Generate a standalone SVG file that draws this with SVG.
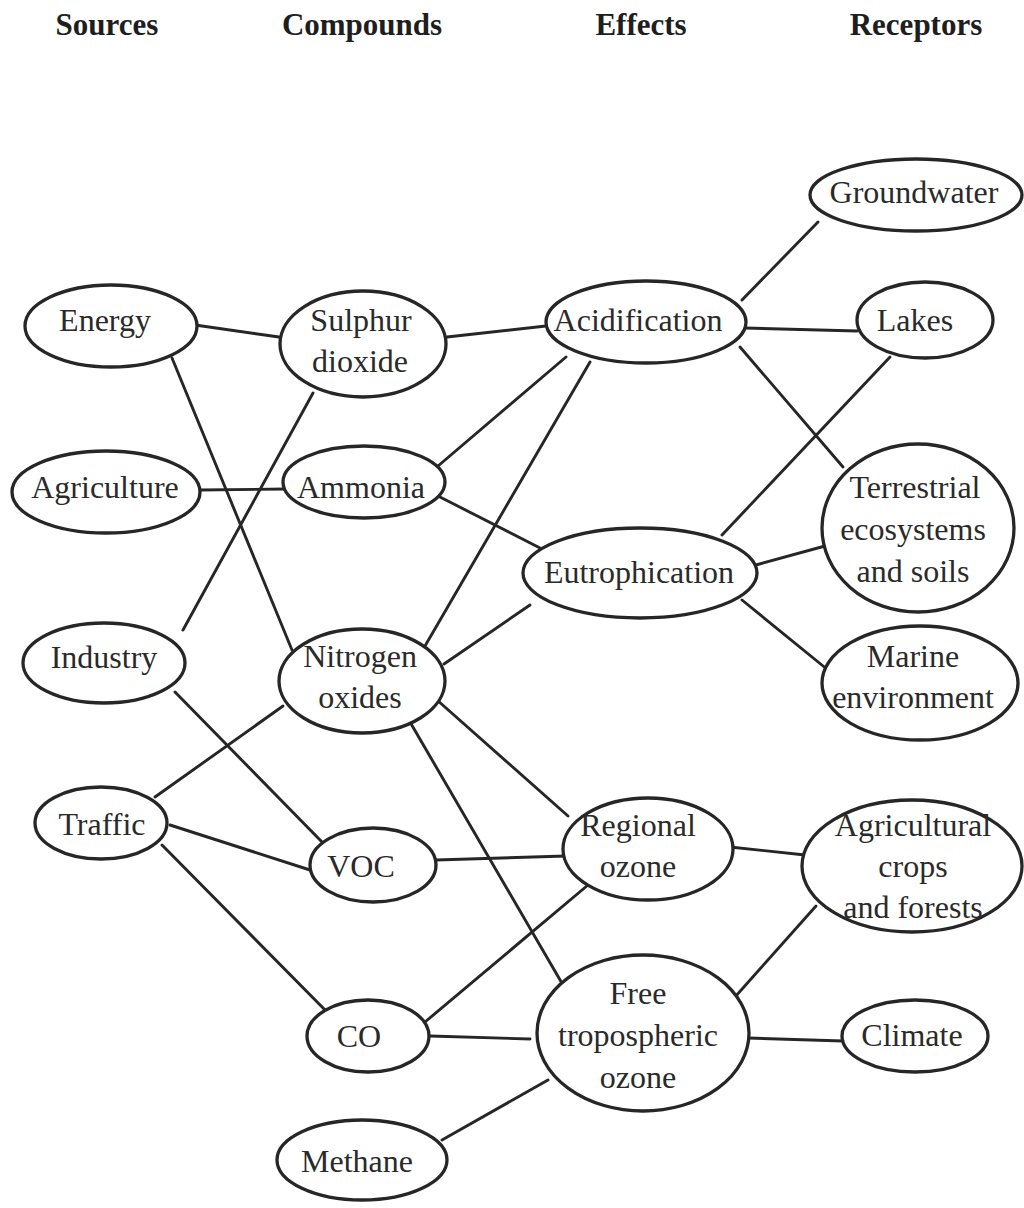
<svg xmlns="http://www.w3.org/2000/svg" width="1024" height="1208" viewBox="0 0 1024 1208">
<style>
.n{fill:#fff;stroke:#262626;stroke-width:3.3}
.t{font-family:"Liberation Serif","Times New Roman",serif;font-size:32px;fill:#2a2a2a;text-anchor:middle}
.h{font-family:"Liberation Serif","Times New Roman",serif;font-size:31px;font-weight:bold;fill:#1e1e1e;text-anchor:middle}
#edges line{stroke:#262626;stroke-width:2.9;stroke-linecap:round}
</style>
<rect width="1024" height="1208" fill="#fff"/>
<g id="headers">
<text class="h" x="107" y="35">Sources</text>
<text class="h" x="362" y="35">Compounds</text>
<text class="h" x="641" y="35">Effects</text>
<text class="h" x="916" y="35">Receptors</text>
</g>
<g id="edges">
<line x1="195" y1="325" x2="279" y2="337"/>
<line x1="172" y1="358" x2="292" y2="650"/>
<line x1="447" y1="337" x2="546" y2="326"/>
<line x1="313" y1="393" x2="183" y2="630"/>
<line x1="200" y1="490" x2="285" y2="489"/>
<line x1="438" y1="466" x2="566" y2="357"/>
<line x1="440" y1="497" x2="540" y2="548"/>
<line x1="425" y1="646" x2="590" y2="362"/>
<line x1="444" y1="664" x2="530" y2="605"/>
<line x1="437" y1="700" x2="568" y2="816"/>
<line x1="410" y1="722" x2="563" y2="985"/>
<line x1="175" y1="692" x2="322" y2="842"/>
<line x1="155" y1="797" x2="283" y2="706"/>
<line x1="170" y1="825" x2="310" y2="870"/>
<line x1="162" y1="845" x2="330" y2="1015"/>
<line x1="436" y1="860" x2="566" y2="856"/>
<line x1="588" y1="885" x2="425" y2="1022"/>
<line x1="430" y1="1036" x2="530" y2="1039"/>
<line x1="442" y1="1140" x2="548" y2="1080"/>
<line x1="742" y1="300" x2="818" y2="222"/>
<line x1="745" y1="328" x2="857" y2="331"/>
<line x1="740" y1="347" x2="843" y2="467"/>
<line x1="722" y1="535" x2="890" y2="357"/>
<line x1="756" y1="565" x2="825" y2="546"/>
<line x1="742" y1="600" x2="828" y2="670"/>
<line x1="730" y1="847" x2="805" y2="855"/>
<line x1="735" y1="997" x2="816" y2="906"/>
<line x1="748" y1="1038" x2="843" y2="1041"/>
</g>
<g id="energy"><ellipse class="n" cx="111" cy="326" rx="86" ry="41"/><text class="t" x="105" y="331">Energy</text></g>
<g id="sulphur-dioxide"><ellipse class="n" cx="363" cy="344" rx="83" ry="53"/><text class="t" x="361" y="331">Sulphur</text><text class="t" x="360" y="372">dioxide</text></g>
<g id="agriculture"><ellipse class="n" cx="106" cy="492" rx="94" ry="41"/><text class="t" x="105" y="498">Agriculture</text></g>
<g id="ammonia"><ellipse class="n" cx="364" cy="482" rx="81" ry="36"/><text class="t" x="361" y="498">Ammonia</text></g>
<g id="industry"><ellipse class="n" cx="104" cy="663" rx="81" ry="40"/><text class="t" x="104" y="668">Industry</text></g>
<g id="nitrogen-oxides"><ellipse class="n" cx="362" cy="681" rx="83" ry="52"/><text class="t" x="360" y="667">Nitrogen</text><text class="t" x="360" y="708">oxides</text></g>
<g id="traffic"><ellipse class="n" cx="101" cy="823" rx="66" ry="36"/><text class="t" x="102" y="835">Traffic</text></g>
<g id="voc"><ellipse class="n" cx="373" cy="865" rx="63" ry="37"/><text class="t" x="361" y="877">VOC</text></g>
<g id="co"><ellipse class="n" cx="368" cy="1036" rx="61" ry="36"/><text class="t" x="359" y="1047">CO</text></g>
<g id="methane"><ellipse class="n" cx="362" cy="1160" rx="85" ry="40"/><text class="t" x="357" y="1172">Methane</text></g>
<g id="acidification"><ellipse class="n" cx="646" cy="322" rx="100" ry="41"/><text class="t" x="638" y="331">Acidification</text></g>
<g id="eutrophication"><ellipse class="n" cx="640" cy="573" rx="117" ry="45"/><text class="t" x="639" y="583">Eutrophication</text></g>
<g id="regional-ozone"><ellipse class="n" cx="648" cy="849" rx="85" ry="51"/><text class="t" x="638" y="836">Regional</text><text class="t" x="638" y="877">ozone</text></g>
<g id="free-tropospheric-ozone"><ellipse class="n" cx="643" cy="1033" rx="106" ry="78"/><text class="t" x="638" y="1004">Free</text><text class="t" x="638" y="1046">tropospheric</text><text class="t" x="638" y="1088">ozone</text></g>
<g id="groundwater"><ellipse class="n" cx="916" cy="195" rx="106" ry="36"/><text class="t" x="914" y="203">Groundwater</text></g>
<g id="lakes"><ellipse class="n" cx="925" cy="320" rx="68" ry="38"/><text class="t" x="915" y="331">Lakes</text></g>
<g id="terrestrial"><ellipse class="n" cx="918" cy="528" rx="96" ry="84"/><text class="t" x="915" y="498">Terrestrial</text><text class="t" x="913" y="540">ecosystems</text><text class="t" x="913" y="582">and soils</text></g>
<g id="marine"><ellipse class="n" cx="920" cy="683" rx="98" ry="57"/><text class="t" x="913" y="667">Marine</text><text class="t" x="913" y="708">environment</text></g>
<g id="agricultural-crops"><ellipse class="n" cx="912" cy="866" rx="110" ry="66"/><text class="t" x="913" y="836">Agricultural</text><text class="t" x="913" y="877">crops</text><text class="t" x="913" y="918">and forests</text></g>
<g id="climate"><ellipse class="n" cx="915" cy="1036" rx="73" ry="36"/><text class="t" x="912" y="1046">Climate</text></g>
</svg>
